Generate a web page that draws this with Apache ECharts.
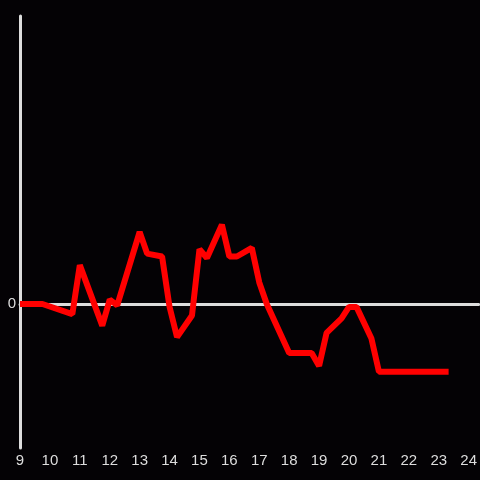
<!DOCTYPE html>
<html>
<head>
<meta charset="utf-8">
<style>
  html, body { margin: 0; padding: 0; background: #040205; }
  #main { width: 480px; height: 480px; }
</style>
<script src="https://cdn.jsdelivr.net/npm/echarts@6/dist/echarts.min.js"></script>
</head>
<body>
<div id="main"></div>
<script>
// hour of day, value
var hours = [9, 9.75, 10.75, 11, 11.75, 12, 12.25, 13, 13.25, 13.75, 14, 14.25, 14.75, 15, 15.25, 15.75,
  16, 16.25, 16.75, 17, 17.25, 18, 18.75, 19, 19.25, 19.75, 20, 20.25, 20.75, 21, 23.33];
var values = [0, 0, -0.07, 0.27, -0.15, 0.03, -0.01, 0.5, 0.35, 0.33, -0.02, -0.23, -0.08, 0.38, 0.32, 0.55,
  0.33, 0.33, 0.39, 0.15, 0, -0.34, -0.34, -0.43, -0.2, -0.1, -0.02, -0.02, -0.24, -0.47, -0.47];
var xTicks = [9, 10, 11, 12, 13, 14, 15, 16, 17, 18, 19, 20, 21, 22, 23, 24];
var yTicks = [0];

var points = hours.map(function (h, i) { return [h, values[i]]; });

var myChart = echarts.init(document.getElementById('main'));
myChart.setOption({
  backgroundColor: '#040205',
  animation: false,
  grid: {
    left: 20,
    right: 0,
    top: 16,
    bottom: 32
  },
  xAxis: [{
    type: 'value',
    min: 9,
    max: 24.333,
    interval: 1,
    axisLine: { show: false, onZero: false },
    axisTick: { show: false },
    splitLine: { show: false },
    axisLabel: {
      customValues: xTicks,
      color: '#dddddd',
      fontSize: 15,
      margin: 5
    }
  }, {
    // zero line
    type: 'value',
    position: 'top',
    min: 9,
    max: 24.333,
    axisLine: { show: true, onZero: true, lineStyle: { color: '#dddddd', width: 3 } },
    axisTick: { show: false },
    axisLabel: { show: false },
    splitLine: { show: false }
  }],
  yAxis: {
    type: 'value',
    min: -1,
    max: 2,
    interval: 1,
    axisLine: { show: true, lineStyle: { color: '#dddddd', width: 3 } },
    axisTick: { show: false },
    splitLine: { show: false },
    axisLabel: {
      customValues: yTicks,
      color: '#dddddd',
      fontSize: 15,
      margin: 4
    }
  },
  series: [{
    type: 'line',
    data: points,
    showSymbol: false,
    symbol: 'none',
    lineStyle: { color: '#ff0000', width: 6 },
    z: 3
  }]
});
</script>
</body>
</html>
